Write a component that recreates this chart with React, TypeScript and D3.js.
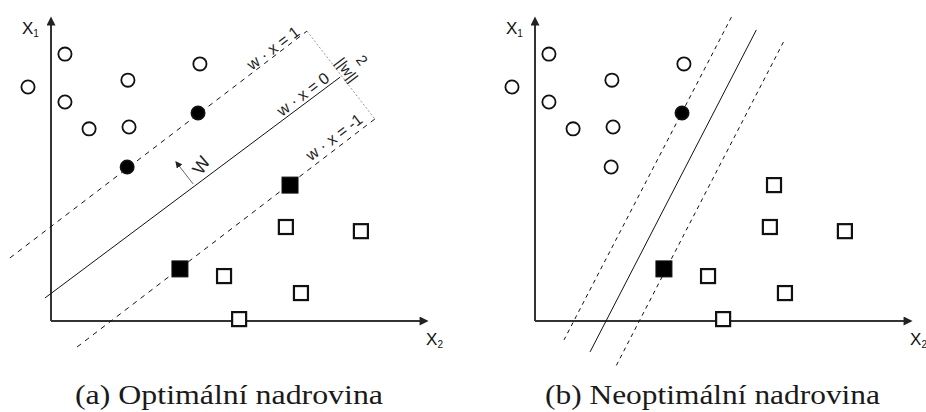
import React from "react";
import * as d3 from "d3";

// two classes of points (x2 = horizontal, x1 = vertical), same in both panels
const circlesX = [0.37, -0.61, 0.37, 2.04, 1.01, 2.07, 3.95, 3.9, 2.02];
const circlesY = [7.07, 6.2, 5.8, 6.38, 5.09, 5.14, 6.81, 5.51, 4.08];
const squaresX = [6.34, 3.42, 6.23, 8.22, 4.59, 6.63, 4.99];
const squaresY = [3.6, 1.38, 2.49, 2.38, 1.19, 0.74, 0.05];

// which points are drawn filled (support vectors) in each panel
const supportCirclesA = [7, 8];
const supportSquaresA = [0, 1];
const supportCirclesB = [7];
const supportSquaresB = [1];

// hyperplane segments [x0, y0, x1, y1]
const optimalSolid = [-0.16, 0.61, 7.67, 6.46];
const optimalPlus = [-1.09, 1.67, 6.79, 7.68];
const optimalMinus = [8.59, 5.35, 0.69, -0.69];
const optimalMargin = [6.79, 7.68, 8.59, 5.35];
const otherPlus = [5.21, 8.05, 0.77, -0.5];
const otherSolid = [5.87, 7.71, 1.46, -0.82];
const otherMinus = [6.59, 7.39, 2.12, -1.25];

const normalArrow = [3.77, 3.63, 3.32, 4.21];

const lineLabels = ["w · x = 1", "w · x = 0", "w · x = -1"];
const lineLabelX = [5.89, 6.68, 7.51];
const lineLabelY = [7.23, 6.01, 4.87];

const captions = ["(a) Optimální nadrovina", "(b) Neoptimální nadrovina"];

const W = 926, H = 412;
const angleLines = -37;
const sans = "Liberation Sans, Arial, Helvetica, sans-serif";
const serif = "Liberation Serif, Times New Roman, Times, serif";

function Panel({ x0, supC, supS, lines, optimal, id }) {
  const x = d3.scaleLinear().domain([0, 10]).range([x0, x0 + 377]);
  const y = d3.scaleLinear().domain([0, 8]).range([321, 19]);
  const seg = (s) => ({ x1: x(s[0]), y1: y(s[1]), x2: x(s[2]), y2: y(s[3]) });
  return (
    <g>
      {/* axes */}
      <line {...seg([0, 0, 0, 7.85])} stroke="#333" strokeWidth={2} markerEnd={`url(#arr${id})`} />
      <line {...seg([0, 0, 9.8, 0])} stroke="#333" strokeWidth={2} markerEnd={`url(#arr${id})`} />
      <text x={x(-0.77)} y={y(7.6)} fontSize={17} fontFamily={sans} fill="#111">
        X<tspan fontSize={10} dy={3}>1</tspan>
      </text>
      <text x={x(9.95)} y={y(-0.63)} fontSize={17} fontFamily={sans} fill="#111">
        X<tspan fontSize={10} dy={3}>2</tspan>
      </text>

      {lines.map((l, i) => (
        <line key={i} {...seg(l.s)} stroke={l.c || "#111"} strokeWidth={1}
          strokeDasharray={l.d || null} />
      ))}

      {optimal && (
        <g fontFamily={sans} fill="#222">
          {lineLabels.map((t, i) => (
            <text key={t} fontSize={16} textAnchor="middle" dy="0.35em"
              transform={`translate(${x(lineLabelX[i])},${y(lineLabelY[i])}) rotate(${angleLines})`}>
              {t}
            </text>
          ))}
          <text fontSize={15} textAnchor="middle" dy="0.35em"
            transform={`translate(${x(7.85)},${y(6.65)}) rotate(53)`}>||w||</text>
          <text fontSize={15} textAnchor="middle" dy="0.35em"
            transform={`translate(${x(8.25)},${y(6.91)}) rotate(53)`}>2</text>
          <line {...seg(normalArrow)} stroke="#666" strokeWidth={1} markerEnd="url(#small)" />
          <text fontSize={18} textAnchor="middle" dy="0.35em"
            transform={`translate(${x(3.98)},${y(4.13)}) rotate(-57)`}>W</text>
        </g>
      )}

      {circlesX.map((cx, i) => (
        <circle key={i} cx={x(cx)} cy={y(circlesY[i])} r={6.6}
          fill={supC.includes(i) ? "#000" : "#fff"} stroke="#111" strokeWidth={1.8} />
      ))}
      {squaresX.map((sx, i) => {
        const filled = supS.includes(i);
        const s = filled ? 16 : 14;
        return (
          <rect key={i} x={x(sx) - s / 2} y={y(squaresY[i]) - s / 2} width={s} height={s}
            fill={filled ? "#000" : "#fff"} stroke="#111" strokeWidth={filled ? 1 : 2.2} />
        );
      })}
    </g>
  );
}

export default function App() {
  const dash = "5,5";
  return (
    <svg width={W} height={H} style={{ position: "absolute", left: 0, top: 0, background: "#fff" }}>
      <defs>
        {["A", "B"].map((id) => (
          <marker key={id} id={`arr${id}`} viewBox="0 0 10 10" refX={1} refY={5}
            markerWidth={5} markerHeight={4.5} orient="auto" markerUnits="strokeWidth">
            <path d="M0,0 L10,5 L0,10 z" fill="#222" />
          </marker>
        ))}
        <marker id="small" viewBox="0 0 10 10" refX={8} refY={5} markerWidth={7} markerHeight={7}
          orient="auto" markerUnits="strokeWidth">
          <path d="M0,0 L10,5 L0,10 z" fill="#222" />
        </marker>
      </defs>
      <Panel id="A" x0={51} supC={supportCirclesA} supS={supportSquaresA} optimal
        lines={[
          { s: optimalSolid },
          { s: optimalPlus, d: dash },
          { s: optimalMinus, d: dash },
          { s: optimalMargin, d: "2,2", c: "#999" },
        ]} />
      <Panel id="B" x0={535} supC={supportCirclesB} supS={supportSquaresB} optimal={false}
        lines={[
          { s: otherSolid },
          { s: otherPlus, d: "4,4" },
          { s: otherMinus, d: "4,4" },
        ]} />
      {captions.map((c, i) => (
        <text key={c} x={i === 0 ? 75 : 545} y={404} fontSize={28} fontFamily={serif}
          fill="#1a1a1a" textLength={i === 0 ? 308 : 335} lengthAdjust="spacingAndGlyphs">
          {c}
        </text>
      ))}
    </svg>
  );
}
